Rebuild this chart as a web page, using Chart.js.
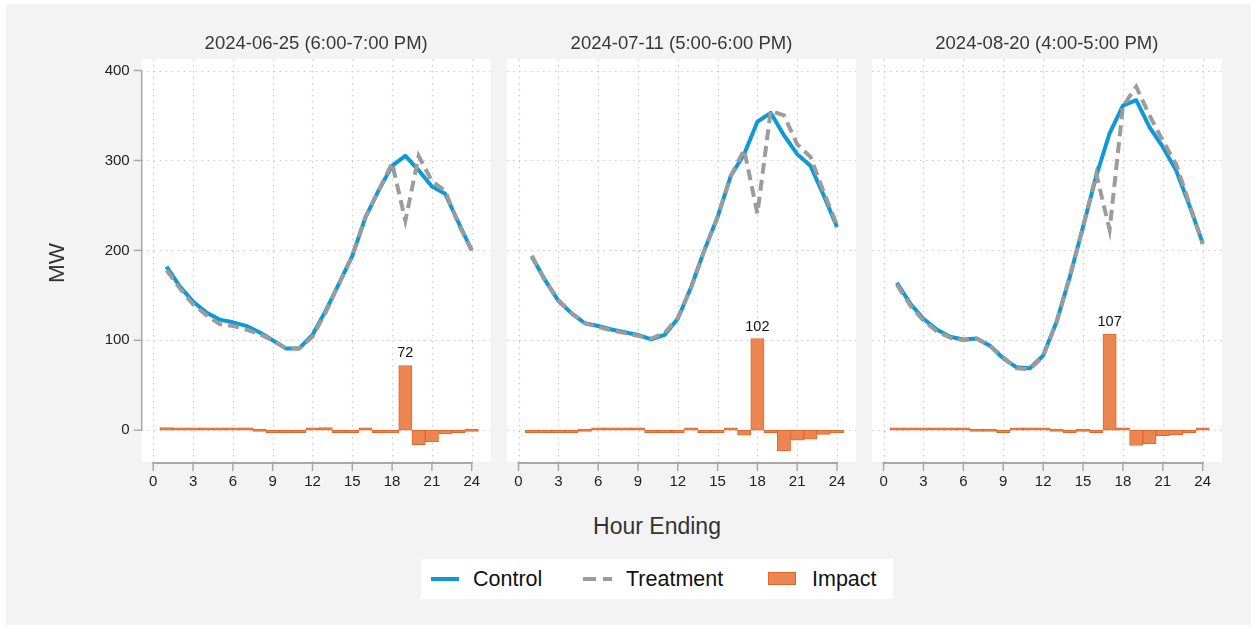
<!DOCTYPE html>
<html>
<head>
<meta charset="utf-8">
<script src="https://cdn.jsdelivr.net/npm/chart.js@4"></script>
<style>
  html, body { margin: 0; padding: 0; background: #ffffff; }
  body { width: 1251px; height: 626px; position: relative; overflow: hidden;
         font-family: "Liberation Sans", Arial, sans-serif; }
  #frame { position: absolute; left: 6px; top: 4px; width: 1245px; height: 621px; background: #f3f3f3; }
  canvas { position: absolute; top: 0; }
  .txt { position: absolute; white-space: nowrap; }
  #ytitle { left: 7px; top: 248px; width: 100px; height: 30px; line-height: 30px; text-align: center;
            font-size: 22.5px; color: #333; transform: rotate(-90deg); }
  #xtitle { left: 557px; top: 511px; width: 200px; height: 30px; line-height: 30px; text-align: center;
            font-size: 23px; color: #333; }
  #legend { position: absolute; left: 421px; top: 559px; width: 472px; height: 40px; background: #ffffff; }
  .lg-text { position: absolute; top: 0; height: 40px; line-height: 40px; font-size: 21.5px; color: #111; }
  .lg-mark { position: absolute; }
</style>
</head>
<body>
<div id="frame"></div>
<canvas id="p1" width="500" height="500" style="left:0px"></canvas>
<canvas id="p2" width="370" height="500" style="left:500px"></canvas>
<canvas id="p3" width="370" height="500" style="left:865px"></canvas>

<div class="txt" id="ytitle">MW</div>
<div class="txt" id="xtitle">Hour Ending</div>

<div id="legend">
  <div class="lg-mark" style="left:10px;top:18px;width:28px;height:4px;background:#0f99d6"></div>
  <div class="lg-text" style="left:52px">Control</div>
  <div class="lg-mark" style="left:162px;top:18px;width:13px;height:4px;background:#9c9c9c"></div>
  <div class="lg-mark" style="left:182px;top:18px;width:9px;height:4px;background:#9c9c9c"></div>
  <div class="lg-text" style="left:205px">Treatment</div>
  <div class="lg-mark" style="left:347px;top:13px;width:26px;height:11px;background:#eb8651;border:1px solid #e2662b"></div>
  <div class="lg-text" style="left:391px">Impact</div>
</div>

<script>
// Hour ending 1..24
const HOURS = [1, 2, 3, 4, 5, 6, 7, 8, 9, 10, 11, 12, 13, 14, 15, 16, 17, 18, 19, 20, 21, 22, 23, 24];
const X_TICKS = [0, 3, 6, 9, 12, 15, 18, 21, 24];
const Y_TICKS = [0, 100, 200, 300, 400];

const PANEL_TITLES = ["2024-06-25 (6:00-7:00 PM)", "2024-07-11 (5:00-6:00 PM)", "2024-08-20 (4:00-5:00 PM)"];
const EVENT_HOURS = [19, 18, 17];

// 2024-06-25
const CONTROL_0625   = [182, 160, 143, 131, 123, 120, 116, 109, 100, 91, 91, 106, 133, 163, 194, 237, 267, 294, 305, 289, 271, 263, 231, 200];
const TREATMENT_0625 = [178, 158, 140, 128, 118, 116, 112, 107, 100, 91, 91, 104, 131, 163, 194, 237, 267, 297, 233, 305, 277, 266, 229, 200];
const IMPACT_0625    = [3, 2, 1, 2, 2, 2.5, 2.5, 0, -0.5, -0.5, -0.5, 1, 3, -0.5, -0.5, 1, -1, -3, 72, -16, -13, -4, -2, 0];

// 2024-07-11
const CONTROL_0711   = [193, 167, 144, 130, 119, 116, 112, 109, 106, 101, 106, 124, 159, 200, 237, 283, 307, 343, 353, 328, 307, 294, 261, 226];
const TREATMENT_0711 = [194, 166, 145, 130, 119, 115, 111, 108, 105, 102, 108, 125, 158, 200, 237, 283, 312, 241, 355, 350, 318, 304, 265, 228];
const IMPACT_0711    = [-0.5, -0.5, -1, -0.5, 0, 0.5, 1, 0.5, 0.5, -1, -2, -0.5, 0.5, -0.5, -0.5, 1, -5.5, 102, -1, -23, -11, -10, -4.5, -2];

// 2024-08-20
const CONTROL_0820   = [164, 141, 124, 112, 104, 101, 102, 94, 80, 70, 69, 83, 120, 170, 226, 283, 330, 361, 367, 337, 315, 289, 250, 208];
const TREATMENT_0820 = [162, 139, 122, 110, 103, 100, 102, 94, 81, 69, 68, 82, 120, 171, 226, 285, 223, 360, 382, 350, 322, 296, 252, 207];
const IMPACT_0820    = [2.5, 2.5, 1.5, 1.5, 0.5, 0.5, 0, 0, -1, 1, 1.5, 1.5, 0, -1, 0, -2, 107, 1.5, -17, -15, -6, -5, -1, 1];

const FONT = '"Liberation Sans", Arial, sans-serif';
const C_BLUE = '#0f99d6';
const C_GRAY = '#9c9c9c';
const C_ORANGE = '#eb8651';
const C_ORANGE_EDGE = '#e2662b';
const C_AXIS = '#a8a8a8';
const C_GRID = '#c9c9c9';

function pts(values) {
  return HOURS.map((h, i) => ({ x: h, y: values[i] }));
}

// White plot region, dotted grid, hand-drawn axes, bar value label and panel title
const panelDecor = {
  id: 'panelDecor',
  beforeDraw(chart) {
    const { ctx, chartArea: a, scales: { x, y } } = chart;
    ctx.save();
    ctx.fillStyle = '#ffffff';
    ctx.fillRect(a.left, a.top, a.right - a.left, a.bottom - a.top);
    ctx.strokeStyle = C_GRID;
    ctx.lineWidth = 1.2;
    ctx.setLineDash([1.5, 4.5]);
    Y_TICKS.forEach(v => {
      const py = Math.round(y.getPixelForValue(v)) + 0.5;
      ctx.beginPath(); ctx.moveTo(a.left, py); ctx.lineTo(a.right, py); ctx.stroke();
    });
    X_TICKS.forEach(v => {
      const px = Math.round(x.getPixelForValue(v)) + 0.5;
      ctx.beginPath(); ctx.moveTo(px, a.top); ctx.lineTo(px, a.bottom); ctx.stroke();
    });
    ctx.restore();
  },
  beforeDatasetsDraw(chart, args, opts) {
    const { ctx, chartArea: a, scales: { x, y } } = chart;
    ctx.save();
    ctx.strokeStyle = C_AXIS;
    ctx.setLineDash([]);
    // x axis
    const ay = a.bottom + 1;
    ctx.lineWidth = 2;
    ctx.beginPath();
    ctx.moveTo(x.getPixelForValue(X_TICKS[0]) - 1, ay);
    ctx.lineTo(x.getPixelForValue(X_TICKS[X_TICKS.length - 1]) + 1, ay);
    ctx.stroke();
    ctx.lineWidth = 1.5;
    X_TICKS.forEach(v => {
      const px = x.getPixelForValue(v);
      ctx.beginPath(); ctx.moveTo(px, ay); ctx.lineTo(px, ay + 8); ctx.stroke();
    });
    // y axis (first panel only)
    if (opts.yAxis) {
      const ax = a.left;
      ctx.lineWidth = 1.5;
      ctx.beginPath();
      ctx.moveTo(ax, y.getPixelForValue(Y_TICKS[Y_TICKS.length - 1]));
      ctx.lineTo(ax, y.getPixelForValue(Y_TICKS[0]));
      ctx.stroke();
      Y_TICKS.forEach(v => {
        const py = y.getPixelForValue(v);
        ctx.beginPath(); ctx.moveTo(ax - 8, py); ctx.lineTo(ax, py); ctx.stroke();
      });
    }
    ctx.restore();
  },
  afterDatasetsDraw(chart, args, opts) {
    const { ctx } = chart;
    const ds = chart.data.datasets;
    const bi = ds.findIndex(d => d.type === 'bar');
    const meta = chart.getDatasetMeta(bi);
    const idx = HOURS.indexOf(opts.eventHour);
    const el = meta.data[idx];
    const val = ds[bi].data[idx].y;
    ctx.save();
    ctx.fillStyle = '#111';
    ctx.font = '14.5px ' + FONT;
    ctx.textAlign = 'center';
    ctx.textBaseline = 'middle';
    ctx.fillText(String(Math.round(val)), el.x, el.y - 12);
    ctx.restore();
  },
  afterDraw(chart, args, opts) {
    const { ctx, chartArea: a } = chart;
    ctx.save();
    ctx.fillStyle = '#383838';
    ctx.font = '18.5px ' + FONT;
    ctx.textAlign = 'center';
    ctx.textBaseline = 'middle';
    ctx.fillText(opts.title, (a.left + a.right) / 2, 44);
    ctx.restore();
  }
};

function makePanel(id, title, eventHour, control, treatment, impact, yWidth, padRight, showY) {
  return new Chart(document.getElementById(id), {
    type: 'line',
    data: {
      datasets: [
        { type: 'line', label: 'Treatment', data: pts(treatment), borderColor: C_GRAY, borderWidth: 4,
          borderDash: [11, 6], pointRadius: 0, tension: 0, order: 1 },
        { type: 'line', label: 'Control', data: pts(control), borderColor: C_BLUE, borderWidth: 4,
          pointRadius: 0, tension: 0, borderJoinStyle: 'round', order: 2 },
        { type: 'bar', label: 'Impact', data: pts(impact), backgroundColor: C_ORANGE, borderColor: C_ORANGE_EDGE,
          borderWidth: 1, borderSkipped: false, minBarLength: 2.5,
          categoryPercentage: 1, barPercentage: 1, order: 3 }
      ]
    },
    options: {
      responsive: false,
      animation: false,
      devicePixelRatio: 1,
      layout: { padding: { top: 59, right: padRight, left: 0, bottom: 0 } },
      plugins: {
        legend: { display: false },
        tooltip: { enabled: false },
        panelDecor: { title: title, eventHour: eventHour, yAxis: showY }
      },
      scales: {
        x: {
          type: 'linear', min: -0.87, max: 25.43, offset: false,
          afterBuildTicks: s => { s.ticks = X_TICKS.map(v => ({ value: v })); },
          afterFit: s => { s.height = 38; },
          grid: { display: false, drawTicks: false },
          border: { display: false },
          ticks: { padding: 11, color: '#222', font: { family: FONT, size: 15 }, maxRotation: 0, autoSkip: false }
        },
        y: {
          type: 'linear', min: -35.3, max: 412.8,
          afterBuildTicks: s => { s.ticks = Y_TICKS.map(v => ({ value: v })); },
          afterFit: s => { s.width = yWidth; },
          grid: { display: false, drawTicks: false },
          border: { display: false },
          ticks: { display: showY, padding: 12, color: '#222', font: { family: FONT, size: 15 } }
        }
      }
    },
    plugins: [panelDecor]
  });
}

makePanel('p1', PANEL_TITLES[0], EVENT_HOURS[0], CONTROL_0625, TREATMENT_0625, IMPACT_0625, 141.7, 9.3, true);
makePanel('p2', PANEL_TITLES[1], EVENT_HOURS[1], CONTROL_0711, TREATMENT_0711, IMPACT_0711, 7, 14, false);
makePanel('p3', PANEL_TITLES[2], EVENT_HOURS[2], CONTROL_0820, TREATMENT_0820, IMPACT_0820, 7, 13.3, false);
</script>
</body>
</html>
